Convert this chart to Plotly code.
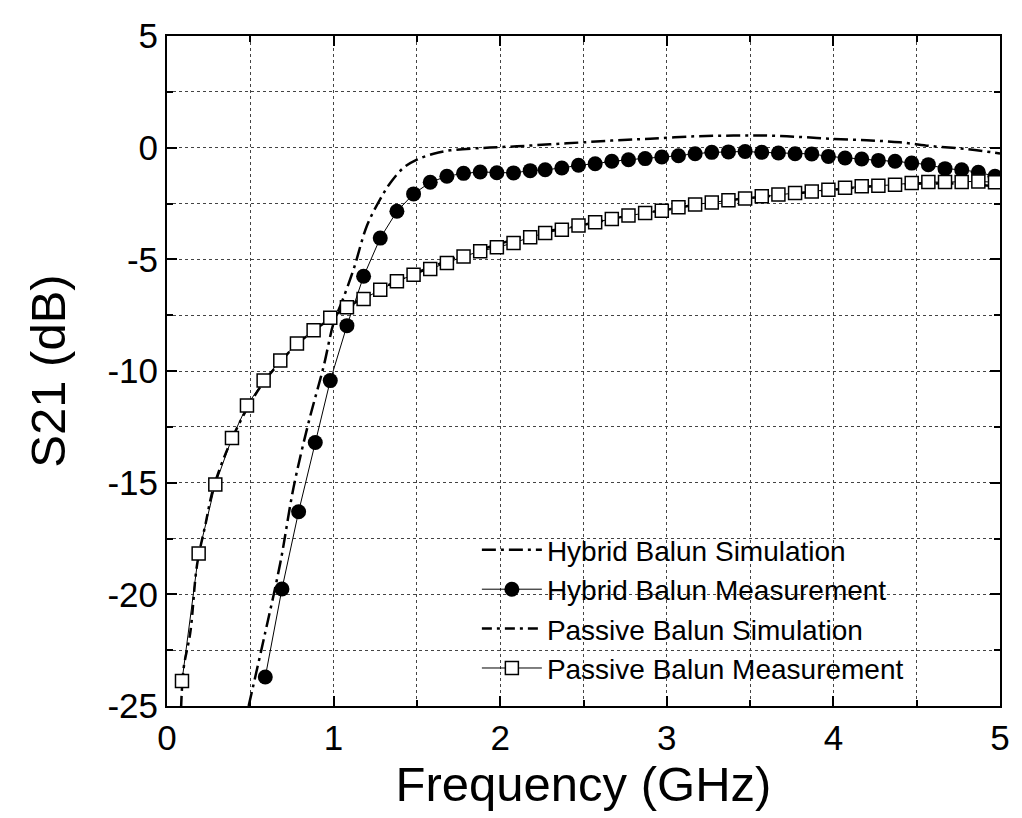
import plotly.graph_objects as go

# Hybrid Balun Simulation (dash-dot)
hyb_sim_f = [0.49, 0.59, 0.68, 0.76, 0.85, 0.94, 1.00, 1.05, 1.12, 1.20, 1.28, 1.34, 1.42, 1.50,
             1.60, 1.70, 1.90, 2.10, 2.30, 2.50, 2.70, 2.90, 3.17, 3.40, 3.60, 3.80, 4.00, 4.20,
             4.40, 4.60, 4.80, 5.00]
hyb_sim_db = [-25.0, -21.7, -18.6, -15.2, -12.3, -9.8, -7.85, -6.9, -5.45, -3.5, -2.3, -1.58, -0.9, -0.54,
              -0.27, -0.12, -0.01, 0.06, 0.15, 0.24, 0.33, 0.40, 0.51, 0.54, 0.54, 0.48, 0.39, 0.33,
              0.24, 0.06, -0.06, -0.26]

# Hybrid Balun Measurement (filled circles)
hyb_meas_f = [0.59, 0.69, 0.79, 0.89, 0.98, 1.08, 1.18, 1.28, 1.38, 1.48, 1.58, 1.68, 1.78, 1.88,
              1.98, 2.08, 2.18, 2.27, 2.37, 2.47, 2.57, 2.67, 2.77, 2.87, 2.97, 3.07, 3.17, 3.27,
              3.37, 3.47, 3.57, 3.67, 3.77, 3.87, 3.97, 4.07, 4.17, 4.27, 4.37, 4.47, 4.57, 4.67,
              4.77, 4.87, 4.97]
hyb_meas_db = [-23.7, -19.76, -16.3, -13.2, -10.43, -7.97, -5.76, -4.05, -2.85, -2.07, -1.55, -1.28, -1.15, -1.09,
               -1.12, -1.13, -1.03, -0.99, -0.91, -0.79, -0.72, -0.61, -0.54, -0.49, -0.42, -0.36, -0.27, -0.21,
               -0.19, -0.17, -0.21, -0.24, -0.27, -0.28, -0.39, -0.46, -0.51, -0.57, -0.61, -0.69, -0.76, -0.94,
               -0.99, -1.10, -1.28]

# Passive Balun Simulation (long dash-dot)
pas_sim_f = [0.085, 0.10, 0.14, 0.18, 0.23, 0.28, 0.38, 0.48, 0.58, 0.68, 0.78, 0.88, 0.98, 1.10,
             1.20, 1.40, 1.60, 1.80, 2.00, 2.20, 2.40, 2.60, 2.80, 3.00, 3.20, 3.40, 3.60, 3.80,
             4.00, 4.20, 4.40, 4.60, 4.80, 5.00]
pas_sim_db = [-25.0, -23.3, -21.7, -18.7, -16.9, -15.2, -13.2, -11.7, -10.5, -9.6, -8.8, -8.2, -7.65, -7.05,
              -6.65, -5.9, -5.3, -4.75, -4.3, -3.85, -3.6, -3.3, -3.0, -2.78, -2.52, -2.33, -2.18, -2.03,
              -1.88, -1.75, -1.65, -1.6, -1.62, -1.75]

# Passive Balun Measurement (open squares)
pas_meas_f = [0.09, 0.19, 0.29, 0.39, 0.48, 0.58, 0.68, 0.78, 0.88, 0.98, 1.08, 1.18, 1.28, 1.38,
              1.48, 1.58, 1.68, 1.78, 1.88, 1.98, 2.08, 2.18, 2.27, 2.37, 2.47, 2.57, 2.67, 2.77,
              2.87, 2.97, 3.07, 3.17, 3.27, 3.37, 3.47, 3.57, 3.67, 3.77, 3.87, 3.97, 4.07, 4.17,
              4.27, 4.37, 4.47, 4.57, 4.67, 4.77, 4.87, 4.97]
pas_meas_db = [-23.88, -18.17, -15.08, -13.0, -11.55, -10.43, -9.53, -8.77, -8.17, -7.62, -7.15, -6.78, -6.36, -5.98,
               -5.69, -5.43, -5.16, -4.87, -4.64, -4.46, -4.27, -4.01, -3.82, -3.67, -3.49, -3.34, -3.19, -3.04,
               -2.92, -2.82, -2.67, -2.55, -2.45, -2.36, -2.28, -2.18, -2.10, -2.03, -1.96, -1.88, -1.80, -1.73,
               -1.70, -1.66, -1.58, -1.54, -1.54, -1.54, -1.51, -1.55]

x_ticks = [0, 1, 2, 3, 4, 5]
y_ticks = [5, 0, -5, -10, -15, -20, -25]

FONT = "Liberation Sans, Arial, sans-serif"

fig = go.Figure()
fig.add_trace(go.Scatter(
    x=hyb_sim_f, y=hyb_sim_db, mode="lines", name="Hybrid Balun Simulation",
    line=dict(color="black", width=2.5, dash="14px,5px,3px,5px"), line_shape="spline"))
fig.add_trace(go.Scatter(
    x=hyb_meas_f, y=hyb_meas_db, mode="lines+markers", name="Hybrid Balun Measurement",
    line=dict(color="black", width=1),
    marker=dict(symbol="circle", size=15, color="black")))
fig.add_trace(go.Scatter(
    x=pas_sim_f, y=pas_sim_db, mode="lines", name="Passive Balun Simulation",
    line=dict(color="black", width=2.5, dash="10px,5px,3px,5px"), line_shape="spline"))
fig.add_trace(go.Scatter(
    x=pas_meas_f, y=pas_meas_db, mode="lines+markers", name="Passive Balun Measurement",
    line=dict(color="black", width=1),
    marker=dict(symbol="square", size=13, color="white", line=dict(color="black", width=1.5))))

axis_common = dict(
    showline=True, linecolor="black", linewidth=2, mirror="ticks",
    ticks="inside", ticklen=10, tickwidth=2, tickcolor="black",
    showgrid=True, gridcolor="#444", gridwidth=1, griddash="dot",
    zeroline=False,
    tickfont=dict(family=FONT, size=35, color="black"),
)

fig.update_xaxes(
    range=[0, 5], tickvals=x_ticks, ticktext=[str(v) for v in x_ticks],
    title=dict(text="Frequency (GHz)", font=dict(family=FONT, size=49, color="black"), standoff=0),
    minor=dict(dtick=0.5, showgrid=True, gridcolor="#444", griddash="dot", ticks="inside",
               ticklen=6, tickcolor="black"),
    **axis_common)
fig.update_yaxes(
    range=[-25, 5], tickvals=y_ticks, ticktext=[str(v) for v in y_ticks],
    title=dict(text="S21 (dB)", font=dict(family=FONT, size=49, color="black"), standoff=26),
    minor=dict(dtick=2.5, showgrid=True, gridcolor="#444", griddash="dot", ticks="inside",
               ticklen=6, tickcolor="black"),
    **axis_common)

fig.update_layout(
    width=1022, height=818,
    margin=dict(l=167, r=19, t=36, b=112),
    paper_bgcolor="white", plot_bgcolor="white",
    showlegend=True,
    legend=dict(x=0.372, y=0.27, xanchor="left", yanchor="top",
                bgcolor="rgba(255,255,255,0)", borderwidth=0,
                font=dict(family=FONT, size=28, color="black"),
                itemwidth=60, tracegroupgap=0),
)

fig.write_html("out.html")
